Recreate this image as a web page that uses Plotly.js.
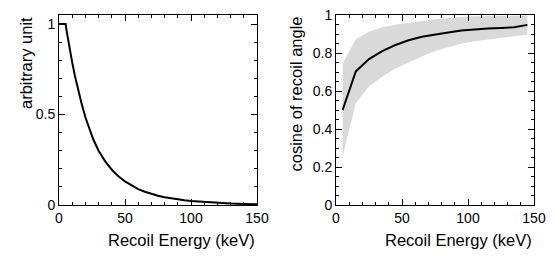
<!DOCTYPE html>
<html>
<head>
<meta charset="utf-8">
<script src="https://cdn.plot.ly/plotly-3.0.1.min.js"></script>
<style>html,body{margin:0;padding:0;background:#fff;}#chart{width:554px;height:259px;}</style>
</head>
<body>
<div id="chart"></div>
<script>
// Left panel: recoil energy spectrum (arbitrary unit)
const spectrumEnergy = [0, 5, 6, 7, 8, 9, 10, 12, 14, 17, 20, 23, 26, 30, 35, 40, 45, 50, 55, 60, 65, 70, 75, 80, 85, 90, 95, 100, 110, 120, 130, 140, 150];
const spectrumValue  = [1, 1, 0.953, 0.908, 0.866, 0.826, 0.788, 0.716, 0.651, 0.564, 0.485, 0.419, 0.362, 0.300, 0.241, 0.195, 0.159, 0.130, 0.107, 0.088, 0.073, 0.061, 0.051, 0.043, 0.036, 0.031, 0.026, 0.022, 0.016, 0.011, 0.008, 0.006, 0.004];

// Right panel: cosine of recoil angle vs recoil energy
const angleEnergy = [5, 15, 25, 35, 45, 55, 65, 75, 85, 95, 105, 115, 125, 135, 145];
const cosMean  = [0.50, 0.703, 0.768, 0.81, 0.842, 0.867, 0.885, 0.898, 0.908, 0.918, 0.924, 0.929, 0.932, 0.935, 0.948];
const cosUpper = [0.745, 0.872, 0.912, 0.935, 0.949, 0.96, 0.968, 0.977, 0.985, 0.99, 0.993, 0.995, 0.996, 0.997, 0.998];
const cosLower = [0.255, 0.535, 0.625, 0.675, 0.718, 0.752, 0.782, 0.81, 0.832, 0.85, 0.862, 0.872, 0.88, 0.888, 0.897];

const xTitle = 'Recoil Energy (keV)';
const yTitleLeft = 'arbitrary unit';
const yTitleRight = 'cosine of recoil angle';

const FONT = 'Liberation Sans, Arial, Helvetica, sans-serif';

const traces = [
  {x: spectrumEnergy, y: spectrumValue, type: 'scatter', mode: 'lines',
   line: {color: '#000', width: 2}, xaxis: 'x', yaxis: 'y', hoverinfo: 'skip'},
  {x: angleEnergy.concat(angleEnergy.slice().reverse()),
   y: cosUpper.concat(cosLower.slice().reverse()),
   type: 'scatter', mode: 'lines', fill: 'toself', fillcolor: '#d9d9d9',
   line: {width: 0, color: '#d9d9d9'}, xaxis: 'x2', yaxis: 'y2', hoverinfo: 'skip'},
  {x: angleEnergy, y: cosMean, type: 'scatter', mode: 'lines',
   line: {color: '#000', width: 2}, xaxis: 'x2', yaxis: 'y2', hoverinfo: 'skip'}
];

function xAxis(domain, anchor) {
  return {
    domain: domain, anchor: anchor, range: [0, 150], dtick: 50, tick0: 0,
    ticks: 'inside', ticklen: 6, tickwidth: 1, tickcolor: '#000',
    minor: {dtick: 10, ticks: 'inside', ticklen: 3, tickwidth: 1, tickcolor: '#000'},
    showline: true, linecolor: '#000', linewidth: 1, mirror: 'ticks',
    showgrid: false, zeroline: false, fixedrange: true,
    tickfont: {family: FONT, size: 14, color: '#000'}
  };
}
function yAxis(range, dtick, minorD, anchor) {
  return {
    domain: [1 - 205/259, 1 - 15/259], anchor: anchor, range: range, dtick: dtick, tick0: 0,
    ticks: 'inside', ticklen: 6, tickwidth: 1, tickcolor: '#000',
    minor: {dtick: minorD, ticks: 'inside', ticklen: 3, tickwidth: 1, tickcolor: '#000'},
    showline: true, linecolor: '#000', linewidth: 1, mirror: 'ticks',
    showgrid: false, zeroline: false, fixedrange: true,
    tickfont: {family: FONT, size: 14, color: '#000'}
  };
}

const titleFont = {family: FONT, size: 16.5, color: '#000'};

const layout = {
  width: 554, height: 259,
  margin: {l: 0, r: 0, t: 0, b: 0},
  paper_bgcolor: '#fff', plot_bgcolor: '#fff',
  showlegend: false,
  xaxis: xAxis([59/554, 257/554], 'y'),
  yaxis: yAxis([0, 1.05], 0.5, 0.1, 'x'),
  xaxis2: xAxis([336/554, 534/554], 'y2'),
  yaxis2: yAxis([0, 1], 0.2, 0.05, 'x2'),
  annotations: [
    {text: xTitle, xref: 'x domain', yref: 'paper', x: 1, y: 1 - 240/259, xanchor: 'right', yanchor: 'middle', showarrow: false, font: titleFont},
    {text: xTitle, xref: 'x2 domain', yref: 'paper', x: 1, y: 1 - 240/259, xanchor: 'right', yanchor: 'middle', showarrow: false, font: titleFont},
    {text: yTitleLeft, xref: 'paper', yref: 'y domain', x: 26/554, y: 1, xanchor: 'center', yanchor: 'top', textangle: -90, showarrow: false, font: titleFont},
    {text: yTitleRight, xref: 'paper', yref: 'y2 domain', x: 295/554, y: 1, xanchor: 'center', yanchor: 'top', textangle: -90, showarrow: false, font: titleFont}
  ]
};

Plotly.newPlot('chart', traces, layout, {staticPlot: true, displayModeBar: false});
</script>
</body>
</html>
